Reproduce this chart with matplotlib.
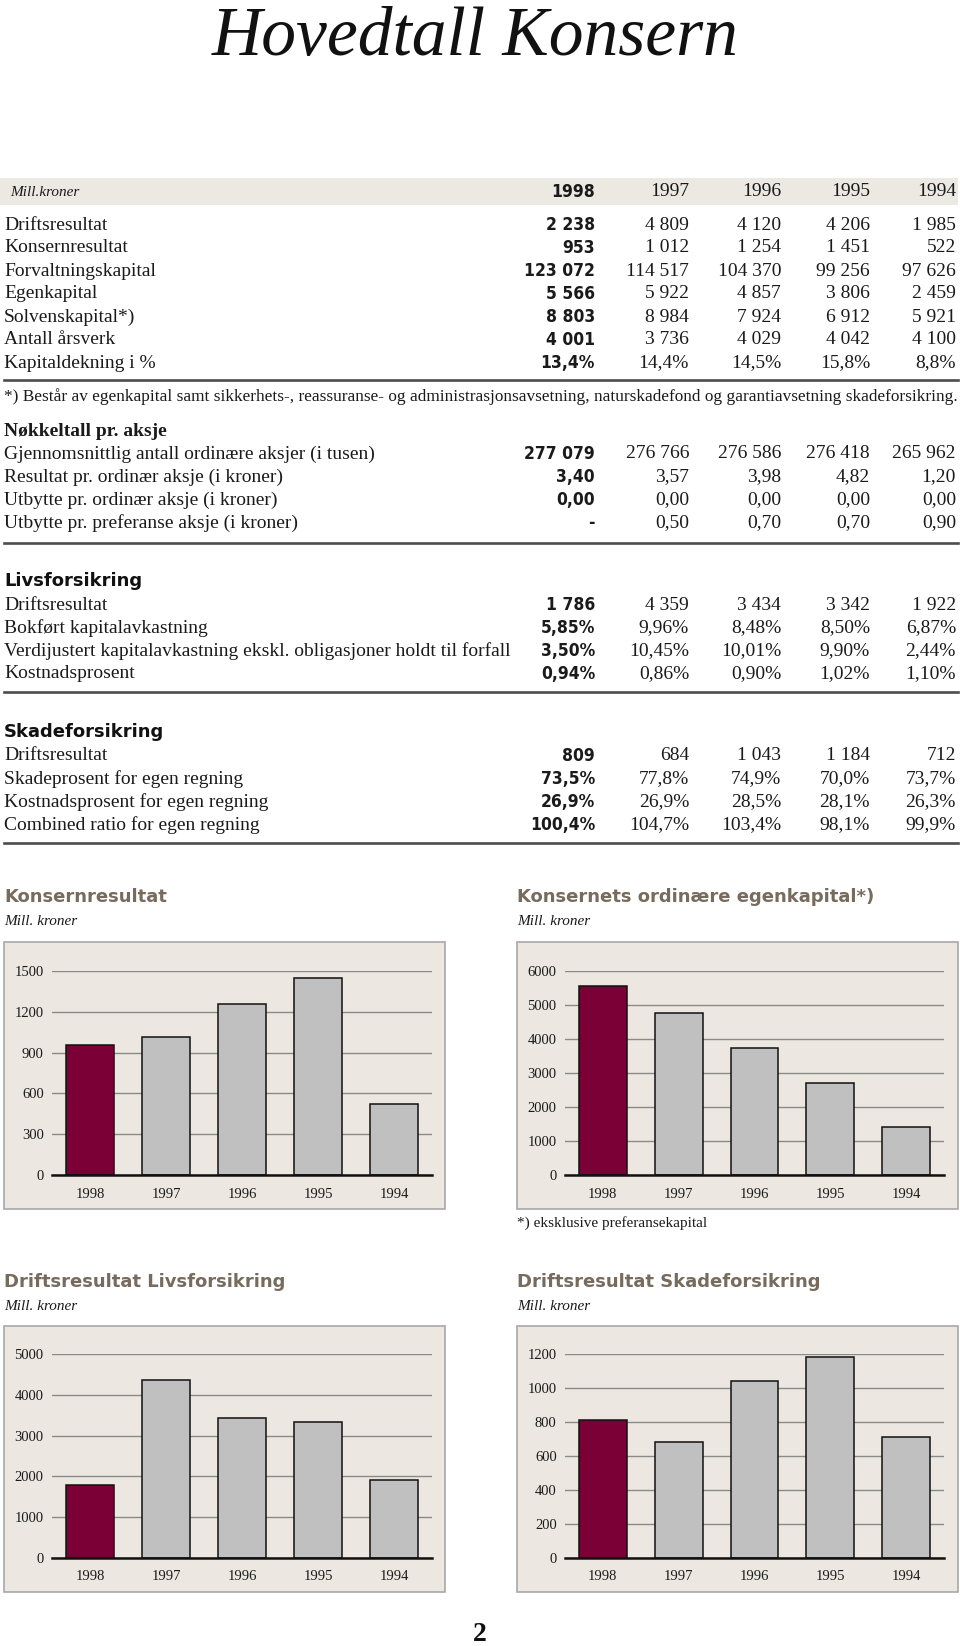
import matplotlib
matplotlib.use("Agg")
import matplotlib.pyplot as plt
from matplotlib import font_manager as fm
from matplotlib.patches import Rectangle
from matplotlib.lines import Line2D

W, H = 960, 1646

# ---- data -------------------------------------------------------------
years = ["1998", "1997", "1996", "1995", "1994"]

konsern_labels = ["Driftsresultat", "Konsernresultat", "Forvaltningskapital",
                  "Egenkapital", "Solvenskapital*)", "Antall årsverk",
                  "Kapitaldekning i %"]
konsern_values = [
    ["2 238", "4 809", "4 120", "4 206", "1 985"],
    ["953", "1 012", "1 254", "1 451", "522"],
    ["123 072", "114 517", "104 370", "99 256", "97 626"],
    ["5 566", "5 922", "4 857", "3 806", "2 459"],
    ["8 803", "8 984", "7 924", "6 912", "5 921"],
    ["4 001", "3 736", "4 029", "4 042", "4 100"],
    ["13,4%", "14,4%", "14,5%", "15,8%", "8,8%"],
]
footnote = ("*) Består av egenkapital samt sikkerhets-, reassuranse- og "
            "administrasjonsavsetning, naturskadefond og garantiavsetning skadeforsikring.")

aksje_labels = ["Gjennomsnittlig antall ordinære aksjer (i tusen)",
                "Resultat pr. ordinær aksje (i kroner)",
                "Utbytte pr. ordinær aksje (i kroner)",
                "Utbytte pr. preferanse aksje (i kroner)"]
aksje_values = [
    ["277 079", "276 766", "276 586", "276 418", "265 962"],
    ["3,40", "3,57", "3,98", "4,82", "1,20"],
    ["0,00", "0,00", "0,00", "0,00", "0,00"],
    ["-", "0,50", "0,70", "0,70", "0,90"],
]

livs_labels = ["Driftsresultat", "Bokført kapitalavkastning",
               "Verdijustert kapitalavkastning ekskl. obligasjoner holdt til forfall",
               "Kostnadsprosent"]
livs_values = [
    ["1 786", "4 359", "3 434", "3 342", "1 922"],
    ["5,85%", "9,96%", "8,48%", "8,50%", "6,87%"],
    ["3,50%", "10,45%", "10,01%", "9,90%", "2,44%"],
    ["0,94%", "0,86%", "0,90%", "1,02%", "1,10%"],
]

skade_labels = ["Driftsresultat", "Skadeprosent for egen regning",
                "Kostnadsprosent for egen regning", "Combined ratio for egen regning"]
skade_values = [
    ["809", "684", "1 043", "1 184", "712"],
    ["73,5%", "77,8%", "74,9%", "70,0%", "73,7%"],
    ["26,9%", "26,9%", "28,5%", "28,1%", "26,3%"],
    ["100,4%", "104,7%", "103,4%", "98,1%", "99,9%"],
]

# chart series
konsernresultat = [953, 1012, 1254, 1451, 522]
ordinaer_egenkapital = [5560, 4765, 3738, 2720, 1410]
drift_livs = [1786, 4359, 3434, 3342, 1922]
drift_skade = [809, 684, 1043, 1184, 712]

# ---- styling -----------------------------------------------------------
has_condensed = any("Condensed" in f.fname and f.name == "DejaVu Sans"
                    and f.weight in ("bold", 700) for f in fm.fontManager.ttflist)
if has_condensed:
    BOLDNUM = dict(family="DejaVu Sans", stretch="condensed", weight="bold")
    num_size = 12.5
else:
    BOLDNUM = dict(family="Liberation Sans", weight="bold")
    num_size = 13.5
SERIF = "Liberation Serif"
HEAD = "DejaVu Sans"

BAND = "#ECE9E3"
MAROON = "#7A0035"
GREY_BAR = "#C0C0C0"
TITLE_BROWN = "#776B5D"
RULE = "#4d4d4d"
INK = "#1a1a1a"

col_right = [595, 689, 781, 870, 956]
row_size = 14

fig = plt.figure(figsize=(W / 100, H / 100), dpi=100)


def fx(x):
    return x / W


def fy(y):
    return 1 - y / H


def txt(x, y, s, **kw):
    kw.setdefault("va", "center")
    fig.text(fx(x), fy(y), s, **kw)


def rule(y, x0=4, x1=958, lw=1.9):
    fig.add_artist(Line2D([fx(x0), fx(x1)], [fy(y), fy(y)],
                          transform=fig.transFigure, color=RULE, lw=lw))


def table_rows(labels, values, y0, step=23):
    for i, (lab, vals) in enumerate(zip(labels, values)):
        y = y0 + i * step
        txt(4, y, lab, family=SERIF, size=row_size, color=INK)
        for j, v in enumerate(vals):
            if j == 0:
                txt(col_right[j], y, v, size=num_size, ha="right", color=INK, **BOLDNUM)
            else:
                txt(col_right[j], y, v, family=SERIF, size=row_size,
                    ha="right", color=INK)


# title
txt(475, 55, "Hovedtall Konsern", family=SERIF, style="italic", size=50,
    ha="center", va="baseline", color="#111111")

# header band
fig.add_artist(Rectangle((fx(0), fy(205)), fx(958), (205 - 178) / H,
                         transform=fig.transFigure, color=BAND, lw=0, zorder=-1))
txt(10, 192, "Mill.kroner", family=SERIF, style="italic", size=11, color=INK)
for j, yr in enumerate(years):
    if j == 0:
        txt(col_right[j], 192, yr, size=num_size, ha="right", color=INK, **BOLDNUM)
    else:
        txt(col_right[j], 192, yr, family=SERIF, size=row_size, ha="right", color=INK)

table_rows(konsern_labels, konsern_values, 225)
rule(380)
txt(4, 397, footnote, family=SERIF, size=12.4, color=INK)

txt(4, 431, "Nøkkeltall pr. aksje", family=SERIF, weight="bold", size=row_size,
    color=INK)
table_rows(aksje_labels, aksje_values, 454)
rule(543)

txt(4, 581, "Livsforsikring", family=HEAD, weight="bold", size=13, color="#111111")
table_rows(livs_labels, livs_values, 605)
rule(692)

txt(4, 732, "Skadeforsikring", family=HEAD, weight="bold", size=13, color="#111111")
table_rows(skade_labels, skade_values, 756)
rule(843)


# ---- bar charts ----------------------------------------------------------
def bar_chart(box, ax_box, title, title_y, values, ymax, step):
    bx0, by0, bx1, by1 = box
    fig.add_artist(Rectangle((fx(bx0), fy(by1)), (bx1 - bx0) / W, (by1 - by0) / H,
                             transform=fig.transFigure, facecolor="#ECE8E1",
                             edgecolor="#A8A8A8", lw=1.2, zorder=-1))
    txt(bx0, title_y, title, family=HEAD, weight="bold", size=13, color=TITLE_BROWN)
    txt(bx0, title_y + 25, "Mill. kroner", family=SERIF, style="italic", size=11,
        color=INK)

    ax0, ay_top, ax1, ay_bot = ax_box
    ax = fig.add_axes([fx(ax0), fy(ay_bot), (ax1 - ax0) / W, (ay_bot - ay_top) / H])
    ax.patch.set_alpha(0)
    colors = [MAROON] + [GREY_BAR] * (len(values) - 1)
    ax.bar(range(len(values)), values, width=0.63, color=colors,
           edgecolor="#111111", linewidth=1.1, zorder=3)
    ax.set_xlim(-0.5, len(values) - 0.5)
    ax.set_ylim(0, ymax)
    ticks = list(range(0, ymax + 1, step))
    ax.set_yticks(ticks)
    ax.set_yticklabels([str(t) for t in ticks], family=SERIF, size=10.5)
    ax.set_xticks(range(len(values)))
    ax.set_xticklabels(years, family=SERIF, size=10.5)
    ax.tick_params(length=0, pad=6, colors=INK)
    ax.tick_params(axis="x", pad=9)
    ax.yaxis.grid(True, color="#8a8a8a", lw=1.0, zorder=1)
    ax.set_axisbelow(True)
    for side in ["left", "right", "top"]:
        ax.spines[side].set_visible(False)
    ax.spines["bottom"].set_linewidth(1.8)
    ax.spines["bottom"].set_color("#111111")
    ax.spines["bottom"].set_zorder(4)
    return ax


bar_chart((4, 942, 445, 1209), (52, 971, 432, 1175), "Konsernresultat", 897,
          konsernresultat, 1500, 300)
bar_chart((517, 942, 958, 1209), (565, 971, 944, 1175),
          "Konsernets ordinære egenkapital*)", 897, ordinaer_egenkapital, 6000, 1000)
txt(517, 1223, "*) eksklusive preferansekapital", family=SERIF, size=11, color=INK)

bar_chart((4, 1326, 445, 1592), (52, 1354, 432, 1558), "Driftsresultat Livsforsikring",
          1282, drift_livs, 5000, 1000)
bar_chart((517, 1326, 958, 1592), (565, 1354, 944, 1558),
          "Driftsresultat Skadeforsikring", 1282, drift_skade, 1200, 200)

# page number
txt(480, 1641, "2", family=SERIF, weight="bold", size=20, ha="center", va="baseline",
    color="#111111")

fig.savefig("out.png", dpi=100)
